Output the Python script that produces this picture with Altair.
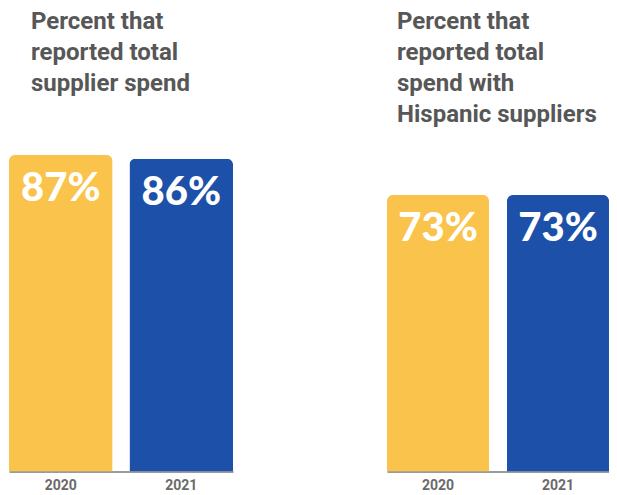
import altair as alt
import pandas as pd

years = ["2020", "2021"]
total_spend_pct = [87, 86]
hispanic_spend_pct = [73, 73]
title_left = ["Percent that", "reported total", "supplier spend"]
title_right = ["Percent that", "reported total", "spend with", "Hispanic suppliers"]
bar_colors = ["#FAC34B", "#1D50A8"]

PLOT_H = 463.5


def panel(values, title_lines, width, ymax, title_x, pad_inner):
    df = pd.DataFrame({"year": years, "pct": values,
                       "label": [f"{v}%" for v in values]})
    base = alt.Chart(df).encode(
        x=alt.X("year:N", title=None,
                scale=alt.Scale(paddingInner=pad_inner, paddingOuter=0),
                axis=alt.Axis(labelAngle=0, ticks=False, domainColor="#7a7a7a",
                              domainWidth=1.5, labelFont="Roboto",
                              labelFontWeight="bold", labelFontSize=14,
                              labelColor="#6a6a6a", labelPadding=7)),
        y=alt.Y("pct:Q", axis=None,
                scale=alt.Scale(domain=[0, ymax], nice=False, zero=True)),
    )
    bars = base.mark_bar(cornerRadiusTopLeft=6, cornerRadiusTopRight=6).encode(
        color=alt.Color("year:N", legend=None,
                        scale=alt.Scale(domain=years, range=bar_colors))
    )
    labels = base.mark_text(
        baseline="alphabetic", align="center", dy=46, font="Lato",
        fontWeight=900, fontSize=40, color="white"
    ).encode(text="label:N")
    title = alt.Chart(pd.DataFrame({"t": [0]})).mark_text(
        text=title_lines, align="left", baseline="alphabetic", font="Roboto",
        fontWeight="bold", fontSize=24, color="#575757", lineHeight=31
    ).encode(x=alt.value(title_x), y=alt.value(21.3))
    return alt.layer(bars, labels, title).properties(width=width, height=PLOT_H)


left = panel(total_spend_pct, title_left, 224, PLOT_H * 87 / 316.5, 22, 0.14)
right = panel(hispanic_spend_pct, title_right, 222, PLOT_H * 73 / 276.5, 10, 0.15)

chart = alt.hconcat(left, right, spacing=154).properties(
    padding={"left": 1, "top": 0, "right": 0, "bottom": 0},
    background="white",
).configure_view(stroke=None)

chart.save("out.html", embed_options={"renderer": "svg", "actions": False})
